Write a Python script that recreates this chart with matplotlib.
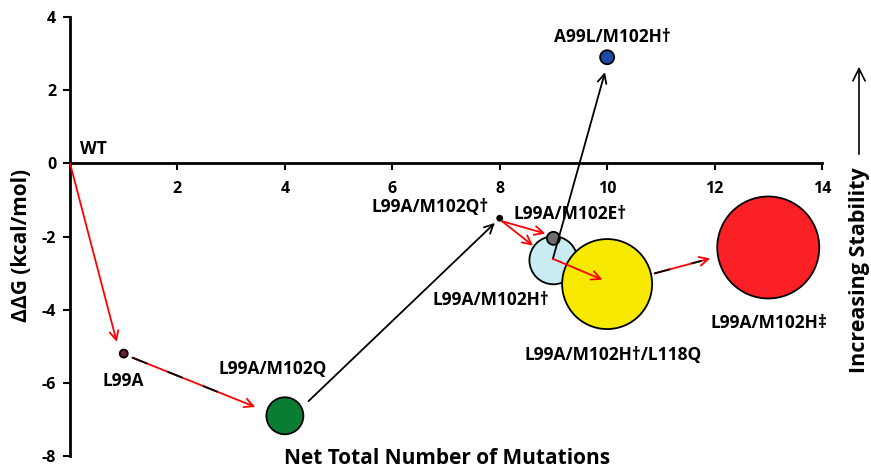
import matplotlib.pyplot as plt
from matplotlib.patches import FancyArrowPatch

# data
names = ['L99A', 'L99A/M102Q', 'L99A/M102Q†', 'L99A/M102H†', 'L99A/M102E†',
         'L99A/M102H†/L118Q', 'L99A/M102H‡', 'A99L/M102H†']
mutations = [1, 4, 8, 9, 9, 10, 13, 10]
ddg = [-5.2, -6.9, -1.5, -2.65, -2.05, -3.3, -2.3, 2.9]
bubble = [4, 18.5, 2.5, 24, 6.5, 45, 51, 7]   # bubble radius (px)
colors = ['#6b1f3f', '#0a7d35', '#000000', '#c9ecf2', '#6e6e6e', '#f7ea00', '#fb2026', '#1d4aa8']
label_x = [1.0, 3.78, 6.7, 7.84, 9.31, 10.11, 13.02, 10.09]
label_y = [-5.95, -5.63, -1.2, -3.74, -1.39, -5.25, -4.37, 3.44]

# arrows between variants: (x0, y0, x1, y1, style)
arrows = [
    (0.0, 0.0, 0.87, -4.88, 'red'),
    (1.16, -5.31, 3.45, -6.66, 'mixed'),
    (4.44, -6.5, 7.91, -1.63, 'black'),
    (8.04, -1.58, 8.85, -1.92, 'red'),
    (8.04, -1.58, 8.62, -2.25, 'red'),
    (8.99, -2.61, 9.96, 2.49, 'black'),
    (8.99, -2.61, 9.91, -3.18, 'red'),
    (10.88, -3.01, 11.92, -2.6, 'mixed'),
]

plt.rcParams['font.family'] = ['Open Sans', 'DejaVu Sans']
plt.rcParams['font.weight'] = 'bold'
plt.rcParams['axes.unicode_minus'] = False

fig = plt.figure(figsize=(8.71, 4.68), dpi=100)
ax = fig.add_axes([0.0804, 0.0256, 0.8633, 0.9381])

sizes = [(2 * r * 0.72) ** 2 for r in bubble]
ax.scatter(mutations, ddg, s=sizes, c=colors, edgecolors='black', linewidths=1.3, zorder=3)

for x0, y0, x1, y1, st in arrows:
    col = 'black' if st == 'black' else 'red'
    ax.annotate('', xy=(x1, y1), xytext=(x0, y0),
                arrowprops=dict(arrowstyle='->', color=col, lw=1.3, mutation_scale=16,
                                shrinkA=0, shrinkB=0), zorder=4)
    if st == 'mixed':
        ax.plot([x0, x0 + 0.85 * (x1 - x0)], [y0, y0 + 0.85 * (y1 - y0)], color='black',
                lw=1.3, dashes=(9, 12), zorder=5)

for n, lx, ly in zip(names, label_x, label_y):
    ax.text(lx, ly, n, ha='center', va='center', fontsize=12.5, fontweight='bold')
ax.text(0.18, 0.4, 'WT', ha='left', va='center', fontsize=12.5, fontweight='bold')

ax.set_xlim(0, 14)
ax.set_ylim(-8, 4)
ax.spines['left'].set_position(('data', 0))
ax.spines['bottom'].set_position(('data', 0))
ax.spines['top'].set_visible(False)
ax.spines['right'].set_visible(False)
ax.spines['left'].set_linewidth(2)
ax.spines['bottom'].set_linewidth(2)
ax.set_xticks([2, 4, 6, 8, 10, 12, 14])
ax.set_yticks([4, 2, 0, -2, -4, -6, -8])
ax.tick_params(axis='x', length=5, width=1.5, pad=8, labelsize=11.5)
ax.tick_params(axis='y', length=5, width=1.5, pad=5, labelsize=11.5)
for t in ax.get_xticklabels() + ax.get_yticklabels():
    t.set_fontweight('bold')

fig.text(22 / 871, 1 - 245 / 468, 'ΔΔG (kcal/mol)', rotation=90, ha='center', va='center',
         fontsize=15, fontweight='bold')
fig.text(447 / 871, 1 - 458 / 468, 'Net Total Number of Mutations', ha='center', va='center',
         fontsize=15, fontweight='bold')
fig.text(859 / 871, 1 - 270 / 468, 'Increasing Stability', rotation=90, ha='center', va='center',
         fontsize=15.5, fontweight='bold')
fig.add_artist(FancyArrowPatch(
    (859 / 871, 1 - 157 / 468), (859 / 871, 1 - 64 / 468), transform=fig.transFigure,
    arrowstyle='->', mutation_scale=22, lw=1.2, color='black'))

fig.savefig('out.png', dpi=100)
